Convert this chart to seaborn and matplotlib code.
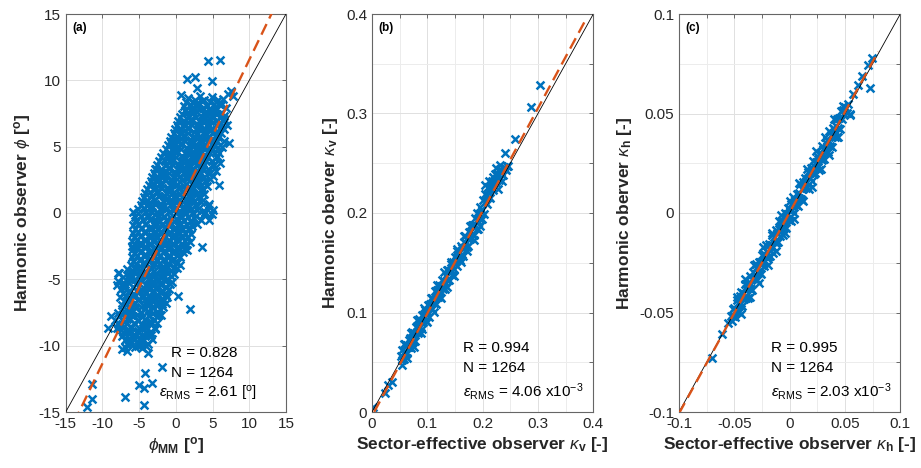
import numpy as np
import pandas as pd
import matplotlib
matplotlib.use("Agg")
import matplotlib.pyplot as plt
import seaborn as sns
from matplotlib.ticker import MultipleLocator, FuncFormatter

# ---------------- data ----------------
# Panel (a): phi_MM (x) vs harmonic observer phi (y), dense core
phi_mm_core = [
    1.7, 2.3, 3.3, 3.9, 4.9, 5.5, 6.4,
    1.1, 2.1, 2.7, 3.7, 4.3, 5.3, 5.9, 6.8,
    0.9, 1.8, 2.4, 3.4, 4.0, 5.0, 5.6, 6.5,
    0.3, 1.3, 1.9, 2.9, 3.5, 4.5, 5.1, 6.1, 6.9,
    -0.1, 0.9, 1.5, 2.5, 3.1, 4.1, 4.7, 5.7, 6.5,
    -0.6, 0.4, 1.0, 2.0, 2.6, 3.6, 4.2, 5.2, 5.8, 6.6,
    -1.1, -0.1, 0.5, 1.5, 2.1, 3.1, 3.7, 4.7, 5.3, 6.3,
    -1.7, -0.7, -0.1, 0.9, 1.5, 2.5, 3.1, 4.1, 4.7, 5.6,
    -2.3, -1.3, -0.7, 0.3, 0.9, 1.9, 2.5, 3.5, 4.1, 5.2, 6.0,
    -2.7, -1.7, -1.1, -0.1, 0.5, 1.5, 2.1, 3.1, 3.7, 4.7, 5.5,
    -3.3, -2.3, -1.7, -0.7, -0.1, 0.9, 1.5, 2.5, 3.1, 4.1, 4.7,
    -3.7, -2.7, -2.1, -1.1, -0.5, 0.5, 1.1, 2.1, 2.7, 3.7, 4.2,
    -4.2, -3.2, -2.6, -1.6, -1.0, 0.0, 0.6, 1.6, 2.2, 3.2, 3.8,
    -4.6, -3.6, -3.0, -2.0, -1.4, -0.4, 0.2, 1.2, 1.8, 2.8, 3.4, 4.5,
    -5.1, -4.1, -3.5, -2.5, -1.9, -0.9, -0.3, 0.7, 1.3, 2.3, 2.9, 4.0, 4.9,
    -5.5, -4.5, -3.9, -2.9, -2.3, -1.3, -0.7, 0.3, 0.9, 1.9, 2.5, 3.4,
    -5.8, -4.8, -4.2, -3.2, -2.6, -1.6, -1.0, 0.0, 0.6, 1.6, 2.2,
    -5.9, -4.9, -4.3, -3.3, -2.7, -1.7, -1.1, -0.1, 0.5, 1.5, 2.1,
    -6.0, -5.0, -4.4, -3.4, -2.8, -1.8, -1.2, -0.2, 0.4, 1.4, 1.9,
    -5.9, -4.9, -4.3, -3.3, -2.7, -1.7, -1.1, -0.1, 0.5, 1.5,
    -6.0, -5.0, -4.4, -3.4, -2.8, -1.8, -1.2, -0.2, 0.6,
    -6.1, -5.1, -4.5, -3.5, -2.9, -1.9, -1.3, -0.3, 0.5,
    -7.7, -6.5, -5.9, -4.9, -4.3, -3.3, -2.7, -1.7, -1.1, -0.2,
    -7.9, -6.9, -6.3, -5.3, -4.7, -3.7, -3.1, -2.1, -1.5, -0.5,
    -7.5, -6.5, -5.9, -4.9, -4.3, -3.3, -2.7, -1.7, -1.0,
    -7.6, -6.6, -6.0, -5.0, -4.4, -3.4, -2.8, -1.8, -1.2,
    -7.3, -6.3, -5.7, -4.7, -4.1, -3.1, -2.5, -1.7,
    -7.9, -6.9, -6.3, -5.3, -4.7, -3.7, -3.1, -2.3,
    -8.3, -7.3, -6.7, -5.7, -5.1, -4.1, -3.5, -2.5,
    -7.7, -6.7, -6.1, -5.1, -4.5, -3.5, -2.9,
    -7.4, -6.4, -5.8, -4.8, -4.2, -3.3,
    -6.6, -5.5, -4.7, -4.0,
]
phi_ho_core = [
    8.7, 8.4, 8.85, 8.55, 8.75, 8.4, 8.6,
    8.1, 7.8, 8.25, 7.95, 8.15, 7.75, 8.2, 7.9,
    7.5, 7.2, 7.6, 7.3, 7.55, 7.25, 7.45, 7.3,
    6.9, 6.6, 7.0, 6.7, 6.95, 6.65, 6.85, 6.75, 6.6,
    6.3, 6.0, 6.4, 6.1, 6.35, 6.05, 6.25, 6.1, 6.3,
    5.7, 5.45, 5.8, 5.5, 5.75, 5.45, 5.65, 5.5, 5.7, 5.4,
    5.1, 4.85, 5.2, 4.9, 5.15, 4.85, 5.05, 4.9, 5.1, 4.95,
    4.5, 4.25, 4.6, 4.3, 4.55, 4.25, 4.45, 4.3, 4.5, 4.3,
    3.9, 3.65, 4.0, 3.7, 3.95, 3.65, 3.85, 3.7, 3.9, 3.6, 3.8,
    3.3, 3.05, 3.4, 3.1, 3.35, 3.05, 3.25, 3.1, 3.3, 3.0, 3.2,
    2.7, 2.45, 2.8, 2.5, 2.75, 2.45, 2.65, 2.5, 2.7, 2.4, 2.6,
    2.1, 1.85, 2.2, 1.9, 2.15, 1.85, 2.05, 1.9, 2.1, 1.8, 2.0,
    1.5, 1.25, 1.6, 1.3, 1.55, 1.25, 1.45, 1.3, 1.5, 1.2, 1.4,
    0.9, 0.65, 1.0, 0.7, 0.95, 0.65, 0.85, 0.7, 0.9, 0.6, 0.8, 0.7,
    0.3, 0.05, 0.4, 0.1, 0.35, 0.05, 0.25, 0.1, 0.3, 0.0, 0.2, 0.1, -0.05,
    -0.3, -0.55, -0.2, -0.5, -0.25, -0.55, -0.35, -0.5, -0.3, -0.6, -0.4, -0.5,
    -0.9, -1.15, -0.8, -1.1, -0.85, -1.15, -0.95, -1.1, -0.9, -1.2, -1.0,
    -1.5, -1.75, -1.4, -1.7, -1.45, -1.75, -1.55, -1.7, -1.5, -1.8, -1.6,
    -2.1, -2.35, -2.0, -2.3, -2.05, -2.35, -2.15, -2.3, -2.1, -2.4, -2.2,
    -2.7, -2.95, -2.6, -2.9, -2.65, -2.95, -2.75, -2.9, -2.7, -2.8,
    -3.3, -3.55, -3.2, -3.5, -3.25, -3.55, -3.35, -3.5, -3.3,
    -3.9, -4.15, -3.8, -4.1, -3.85, -4.15, -3.95, -4.1, -3.9,
    -4.5, -4.75, -4.4, -4.7, -4.45, -4.75, -4.55, -4.7, -4.5, -4.6,
    -5.1, -5.35, -5.0, -5.3, -5.05, -5.35, -5.15, -5.3, -5.1, -5.2,
    -5.7, -5.95, -5.6, -5.9, -5.65, -5.95, -5.75, -5.9, -5.7,
    -6.3, -6.55, -6.2, -6.5, -6.25, -6.55, -6.35, -6.5, -6.3,
    -6.9, -7.15, -6.8, -7.1, -6.85, -7.15, -6.95, -7.1,
    -7.5, -7.75, -7.4, -7.7, -7.45, -7.75, -7.55, -7.7,
    -8.1, -8.35, -8.0, -8.3, -8.05, -8.35, -8.15, -8.3,
    -8.7, -8.95, -8.6, -8.9, -8.65, -8.95, -8.75,
    -9.3, -9.55, -9.2, -9.5, -9.25, -9.5,
    -9.9, -10.1, -9.85, -10.05,
]
# Panel (a): points between the core rows
phi_mm_fill = [
    1.4, 2.0, 2.6, 3.0, 3.6, 4.2, 4.6, 5.2, 5.8, 6.2,
    1.3, 1.5, 2.2, 2.9, 3.1, 3.8, 4.6, 4.8, 5.4, 6.1,
    0.6, 1.1, 1.6, 2.2, 2.8, 3.2, 3.8, 4.3, 4.9, 5.4, 6.0, 6.6,
    0.1, 0.6, 1.1, 1.7, 2.2, 2.7, 3.3, 3.8, 4.4, 4.9, 5.4, 6.2,
    -0.3, 0.2, 0.7, 1.3, 1.7, 2.3, 2.9, 3.3, 3.9, 4.5, 4.9, 5.5, 6.1,
    -0.8, -0.4, 0.2, 0.8, 1.2, 1.8, 2.4, 2.8, 3.4, 4.0, 4.4, 5.0, 5.6, 6.0,
    -1.4, -0.9, -0.4, 0.2, 0.7, 1.2, 1.8, 2.3, 2.8, 3.4, 3.9, 4.4, 5.0, 5.9,
    -2.0, -1.5, -1.0, -0.4, 0.0, 0.6, 1.2, 1.6, 2.2, 2.8, 3.2, 3.8, 4.4, 4.9, 5.6,
    -2.5, -2.0, -1.4, -0.9, -0.4, 0.2, 0.7, 1.1, 1.7, 2.3, 2.7, 3.3, 3.9, 4.4, 5.1,
    -3.0, -2.5, -2.0, -1.4, -0.9, -0.4, 0.2, 0.6, 1.2, 1.8, 2.2, 2.8, 3.4, 3.9, 4.4, 5.1,
    -3.4, -3.0, -2.5, -1.9, -1.4, -0.8, -0.3, 0.2, 0.8, 1.4, 1.8, 2.4, 3.0, 3.4, 4.0,
    -3.9, -3.5, -2.9, -2.4, -1.9, -1.3, -0.7, -0.3, 0.3, 0.9, 1.3, 1.9, 2.5, 2.9, 3.5,
    -4.3, -3.9, -3.3, -2.8, -2.3, -1.7, -1.2, -0.7, -0.2, 0.4, 0.9, 1.4, 2.0, 2.5, 3.0, 3.7,
    -4.8, -4.4, -3.8, -3.3, -2.8, -2.2, -1.6, -1.2, -0.6, 0.0, 0.4, 1.0, 1.6, 2.0, 2.6, 3.2, 4.4,
    -5.2, -4.8, -4.2, -3.7, -3.2, -2.6, -2.0, -1.6, -1.0, -0.4, 0.0, 0.6, 1.2, 1.6, 2.2, 2.8, 3.8,
    -5.6, -5.1, -4.5, -4.0, -3.5, -2.8, -2.3, -1.8, -1.2, -0.6, -0.2, 0.5, 1.1, 1.5, 2.0, 2.9,
    -5.6, -5.2, -4.6, -4.0, -3.6, -3.0, -2.4, -2.0, -1.4, -0.8, -0.4, 0.2, 0.8, 1.2, 1.9,
    -5.7, -5.3, -4.7, -4.1, -3.7, -3.1, -2.5, -2.1, -1.5, -0.9, -0.5, 0.1, 0.8, 1.2, 1.7,
    -5.6, -5.2, -4.6, -4.0, -3.6, -3.0, -2.4, -2.0, -1.4, -0.8, -0.4, 0.2, 0.9, 1.3,
    -5.7, -5.3, -4.7, -4.1, -3.7, -3.1, -2.5, -2.1, -1.5, -0.8, -0.4, 0.2, 1.0,
    -5.8, -5.4, -4.8, -4.2, -3.8, -3.2, -2.6, -2.2, -1.6, -0.9, -0.5, 0.2,
    -6.6, -6.1, -5.5, -4.9, -4.6, -4.0, -3.4, -3.0, -2.4, -1.7, -1.3, -0.6, 0.1,
    -7.2, -6.8, -6.2, -5.6, -5.2, -4.6, -4.0, -3.6, -2.9, -2.3, -1.9, -1.2, -0.7,
    -7.4, -7.0, -6.4, -5.8, -5.4, -4.8, -4.1, -3.7, -3.1, -2.5, -2.0, -1.4, -0.8,
    -7.2, -6.8, -6.2, -5.6, -5.2, -4.6, -4.0, -3.6, -3.0, -2.4, -2.0, -1.4,
    -7.1, -6.7, -6.1, -5.5, -5.1, -4.5, -3.9, -3.5, -2.9, -2.3, -1.9, -1.4,
    -7.4, -6.9, -6.4, -5.8, -5.4, -4.8, -4.2, -3.8, -3.2, -2.6, -2.1,
    -7.8, -7.3, -6.8, -6.2, -5.8, -5.2, -4.6, -4.2, -3.6, -3.0, -2.6,
    -7.9, -7.2, -6.6, -6.2, -5.6, -5.0, -4.6, -4.0, -3.3, -2.9,
    -7.2, -6.6, -6.2, -5.6, -5.0, -4.6, -4.0, -3.4,
    -6.9, -6.2, -5.6, -5.1, -4.5, -3.8,
]
phi_ho_fill = [
    8.4, 8.15, 8.5, 8.2, 8.45, 8.1, 8.35, 8.2, 8.5, 8.15,
    7.8, 7.55, 7.9, 7.6, 7.85, 7.5, 7.75, 7.6, 7.9, 7.55,
    7.2, 6.95, 7.3, 7.0, 7.25, 6.9, 7.15, 7.0, 7.3, 6.95, 7.2, 7.05,
    6.6, 6.35, 6.7, 6.4, 6.65, 6.3, 6.55, 6.4, 6.7, 6.35, 6.6, 6.45,
    6.0, 5.75, 6.1, 5.8, 6.05, 5.7, 5.95, 5.8, 6.1, 5.75, 6.0, 5.85, 6.05,
    5.4, 5.15, 5.5, 5.2, 5.45, 5.1, 5.35, 5.2, 5.5, 5.15, 5.4, 5.25, 5.45, 5.1,
    4.8, 4.55, 4.9, 4.6, 4.85, 4.5, 4.75, 4.6, 4.9, 4.55, 4.8, 4.65, 4.85, 4.5,
    4.2, 3.95, 4.3, 4.0, 4.25, 3.9, 4.15, 4.0, 4.3, 3.95, 4.2, 4.05, 4.25, 3.9, 4.2,
    3.6, 3.35, 3.7, 3.4, 3.65, 3.3, 3.55, 3.4, 3.7, 3.35, 3.6, 3.45, 3.65, 3.3, 3.6,
    3.0, 2.75, 3.1, 2.8, 3.05, 2.7, 2.95, 2.8, 3.1, 2.75, 3.0, 2.85, 3.05, 2.7, 3.0, 2.8,
    2.4, 2.15, 2.5, 2.2, 2.45, 2.1, 2.35, 2.2, 2.5, 2.15, 2.4, 2.25, 2.45, 2.1, 2.4,
    1.8, 1.55, 1.9, 1.6, 1.85, 1.5, 1.75, 1.6, 1.9, 1.55, 1.8, 1.65, 1.85, 1.5, 1.8,
    1.2, 0.95, 1.3, 1.0, 1.25, 0.9, 1.15, 1.0, 1.3, 0.95, 1.2, 1.05, 1.25, 0.9, 1.2, 1.0,
    0.6, 0.35, 0.7, 0.4, 0.65, 0.3, 0.55, 0.4, 0.7, 0.35, 0.6, 0.45, 0.65, 0.3, 0.6, 0.4, 0.55,
    0.0, -0.25, 0.1, -0.2, 0.05, -0.3, -0.05, -0.2, 0.1, -0.25, 0.0, -0.15, 0.05, -0.3, 0.0, -0.2, -0.05,
    -0.6, -0.85, -0.5, -0.8, -0.55, -0.9, -0.65, -0.8, -0.5, -0.85, -0.6, -0.75, -0.55, -0.9, -0.6, -0.8,
    -1.2, -1.45, -1.1, -1.4, -1.15, -1.5, -1.25, -1.4, -1.1, -1.45, -1.2, -1.35, -1.15, -1.5, -1.2,
    -1.8, -2.05, -1.7, -2.0, -1.75, -2.1, -1.85, -2.0, -1.7, -2.05, -1.8, -1.95, -1.75, -2.1, -1.8,
    -2.4, -2.65, -2.3, -2.6, -2.35, -2.7, -2.45, -2.6, -2.3, -2.65, -2.4, -2.55, -2.35, -2.7,
    -3.0, -3.25, -2.9, -3.2, -2.95, -3.3, -3.05, -3.2, -2.9, -3.25, -3.0, -3.15, -2.95,
    -3.6, -3.85, -3.5, -3.8, -3.55, -3.9, -3.65, -3.8, -3.5, -3.85, -3.6, -3.75,
    -4.2, -4.45, -4.1, -4.4, -4.15, -4.5, -4.25, -4.4, -4.1, -4.45, -4.2, -4.35, -4.15,
    -4.8, -5.05, -4.7, -5.0, -4.75, -5.1, -4.85, -5.0, -4.7, -5.05, -4.8, -4.95, -4.75,
    -5.4, -5.65, -5.3, -5.6, -5.35, -5.7, -5.45, -5.6, -5.3, -5.65, -5.4, -5.55, -5.35,
    -6.0, -6.25, -5.9, -6.2, -5.95, -6.3, -6.05, -6.2, -5.9, -6.25, -6.0, -6.15,
    -6.6, -6.85, -6.5, -6.8, -6.55, -6.9, -6.65, -6.8, -6.5, -6.85, -6.6, -6.75,
    -7.2, -7.45, -7.1, -7.4, -7.15, -7.5, -7.25, -7.4, -7.1, -7.45, -7.2,
    -7.8, -8.05, -7.7, -8.0, -7.75, -8.1, -7.85, -8.0, -7.7, -8.05, -7.8,
    -8.4, -8.65, -8.3, -8.6, -8.35, -8.7, -8.45, -8.6, -8.3, -8.65,
    -9.0, -9.25, -8.9, -9.2, -8.95, -9.3, -9.05, -9.2,
    -9.6, -9.85, -9.5, -9.8, -9.55, -9.9,
]
# Panel (a): scattered outlying points
phi_mm_sparse = [-12.05, -11.37, -11.37, -6.92, -4.29, -4.2, -5.0, -4.4, -3.29, -1.93,
                 -3.74, 0.34, 1.93, 3.52, 4.56, 5.1, 5.93, 7.2, 4.43, 6.02,
                 1.48, 2.61, 4.88, 2.84, 0.7, 7.15, 7.74, 7.47, -2.83, -5.88,
                 -5.42, -8.87, -9.19, -7.96, -6.92, -6.69, -7.37, -6.24, -5.15, -4.6,
                 -2.02, -1.84, -7.83, -7.96, -6.01, -0.56, -1.16, -1.48]
phi_ho_sparse = [-14.65, -13.99, -12.89, -13.84, -14.47, -12.08, -12.96, -13.2, -12.84, -11.58,
                 -10.52, -6.25, -7.25, -2.53, -0.51, 0.24, 2.13, 5.27, 11.48, 11.56,
                 10.12, 10.22, 9.97, 9.4, 8.91, 8.97, 8.8, 9.17, 3.33, 0.06,
                 -0.64, -7.73, -8.64, -8.69, -10.07, -10.37, -10.27, -9.64, -9.99, -10.19,
                 -7.68, -6.85, -4.54, -5.42, -2.48, 5.32, 4.39, 2.5]

# Panel (b): kappa_v, sector-effective (x) vs harmonic (y)
kv_se = [
    0.052, 0.054, 0.055, 0.057, 0.058, 0.060, 0.061, 0.063, 0.064, 0.066,
    0.067, 0.069, 0.070, 0.072, 0.073, 0.075, 0.076, 0.078, 0.079, 0.081,
    0.082, 0.084, 0.085, 0.087, 0.088, 0.090, 0.091, 0.093, 0.094, 0.096,
    0.097, 0.099, 0.100, 0.102, 0.103, 0.105, 0.106, 0.108, 0.109, 0.111,
    0.112, 0.114, 0.115, 0.117, 0.118, 0.120, 0.121, 0.123, 0.124, 0.126,
    0.127, 0.129, 0.130, 0.132, 0.133, 0.135, 0.136, 0.138, 0.139, 0.141,
    0.142, 0.144, 0.145, 0.147, 0.148, 0.150, 0.151, 0.153, 0.154, 0.156,
    0.157, 0.159, 0.160, 0.162, 0.163, 0.165, 0.166, 0.168, 0.169, 0.171,
    0.172, 0.174, 0.175, 0.177, 0.178, 0.180, 0.181, 0.183, 0.184, 0.186,
    0.187, 0.189, 0.190, 0.192, 0.193, 0.195, 0.196, 0.198, 0.199, 0.201,
    0.202, 0.204, 0.205, 0.207, 0.208, 0.210, 0.211, 0.213, 0.214, 0.216,
    0.217, 0.219, 0.221, 0.222, 0.224, 0.226, 0.228, 0.230, 0.232, 0.234,
    0.236, 0.238, 0.240, 0.242, 0.244, 0.246,
    0.058, 0.064, 0.070, 0.076, 0.082, 0.088, 0.094, 0.100, 0.106, 0.112,
    0.118, 0.124, 0.130, 0.136, 0.142, 0.148, 0.154, 0.160, 0.166, 0.172,
    0.178, 0.184, 0.190, 0.196, 0.205, 0.212, 0.219, 0.225, 0.231, 0.228, 0.235,
    0.0024, 0.0235, 0.0296, 0.0356, 0.0537, 0.2395, 0.2588, 0.287, 0.303,
]
kv_ho = [
    0.056, 0.052, 0.062, 0.053, 0.060, 0.068, 0.058, 0.067, 0.059, 0.072,
    0.065, 0.074, 0.064, 0.074, 0.080, 0.071, 0.079, 0.071, 0.085, 0.080,
    0.086, 0.079, 0.093, 0.085, 0.091, 0.083, 0.097, 0.090, 0.095, 0.103,
    0.091, 0.101, 0.097, 0.108, 0.095, 0.109, 0.105, 0.115, 0.104, 0.114,
    0.110, 0.122, 0.109, 0.118, 0.123, 0.116, 0.128, 0.116, 0.127, 0.125,
    0.133, 0.124, 0.132, 0.124, 0.137, 0.143, 0.133, 0.143, 0.133, 0.142,
    0.149, 0.142, 0.138, 0.151, 0.144, 0.156, 0.152, 0.147, 0.162, 0.155,
    0.161, 0.153, 0.167, 0.159, 0.165, 0.157, 0.171, 0.166, 0.177, 0.166,
    0.175, 0.167, 0.181, 0.177, 0.174, 0.188, 0.179, 0.188, 0.178, 0.188,
    0.195, 0.184, 0.193, 0.184, 0.199, 0.194, 0.206, 0.194, 0.203, 0.213,
    0.199, 0.211, 0.219, 0.209, 0.218, 0.226, 0.216, 0.225, 0.215, 0.225,
    0.232, 0.223, 0.232, 0.239, 0.230, 0.240, 0.237, 0.233, 0.244, 0.241,
    0.238, 0.246, 0.244, 0.243, 0.247, 0.247,
    0.068, 0.054, 0.079, 0.065, 0.092, 0.079, 0.105, 0.090, 0.115, 0.101,
    0.128, 0.115, 0.141, 0.126, 0.151, 0.137, 0.164, 0.151, 0.177, 0.162,
    0.187, 0.173, 0.200, 0.187, 0.228, 0.232, 0.236, 0.245, 0.248, 0.224, 0.232,
    0.0047, 0.0188, 0.027, 0.0305, 0.0472, 0.260, 0.274, 0.307, 0.329,
]

# Panel (c): kappa_h, sector-effective (x) vs harmonic (y)
kh_se = [
    -0.0530, -0.0523, -0.0514, -0.0508, -0.0499, -0.0492, -0.0486, -0.0478, -0.0471, -0.0463, -0.0457, -0.0449,
    -0.0442, -0.0436, -0.0428, -0.0421, -0.0413, -0.0407, -0.0399, -0.0392, -0.0386, -0.0378, -0.0371, -0.0365,
    -0.0357, -0.0350, -0.0343, -0.0336, -0.0328, -0.0321, -0.0314, -0.0307, -0.0299, -0.0292, -0.0285, -0.0278,
    -0.0271, -0.0264, -0.0257, -0.0249, -0.0242, -0.0235, -0.0228, -0.0220, -0.0213, -0.0206, -0.0199, -0.0192,
    -0.0185, -0.0178, -0.0171, -0.0163, -0.0156, -0.0149, -0.0142, -0.0134, -0.0127, -0.0120, -0.0113, -0.0106,
    -0.0099, -0.0092, -0.0085, -0.0077, -0.0070, -0.0063, -0.0056, -0.0048, -0.0041, -0.0034, -0.0027, -0.0020,
    -0.0013, -0.0006, 0.0001, 0.0009, 0.0016, 0.0023, 0.0030, 0.0038, 0.0045, 0.0052, 0.0059, 0.0066,
    0.0073, 0.0080, 0.0087, 0.0095, 0.0102, 0.0109, 0.0116, 0.0124, 0.0131, 0.0138, 0.0145, 0.0152,
    0.0159, 0.0166, 0.0173, 0.0181, 0.0188, 0.0195, 0.0202, 0.0210, 0.0217, 0.0224, 0.0231, 0.0238,
    0.0245, 0.0252, 0.0259, 0.0267, 0.0274, 0.0281, 0.0288, 0.0296, 0.0303, 0.0310, 0.0317, 0.0324,
    0.0331, 0.0338, 0.0345, 0.0353, 0.0360, 0.0367, 0.0374, 0.0382, 0.0389, 0.0396, 0.0403, 0.0410,
    0.0417, 0.0424, 0.0431, 0.0439, 0.0446, 0.0453, 0.0461, 0.0470, 0.0480, 0.0490, 0.0502, 0.0515, 0.0528, 0.0545,
    -0.048, -0.044, -0.040, -0.036, -0.032, -0.028, -0.024, -0.020, -0.016, -0.012, -0.008, -0.004, 0.000,
    0.004, 0.008, 0.012, 0.016, 0.020, 0.024, 0.028, 0.032, 0.036, 0.040, 0.044, 0.048,
    -0.0705, -0.0614, -0.0554, 0.0575, 0.0620, 0.0650, 0.0711, 0.0741, 0.0726, 0.0545,
]
kh_ho = [
    -0.0520, -0.0543, -0.0484, -0.0518, -0.0479, -0.0522, -0.0486, -0.0438, -0.0491, -0.0453, -0.0497, -0.0419,
    -0.0452, -0.0396, -0.0468, -0.0401, -0.0433, -0.0357, -0.0429, -0.0382, -0.0356, -0.0428, -0.0351, -0.0375,
    -0.0317, -0.0380, -0.0333, -0.0386, -0.0298, -0.0321, -0.0334, -0.0257, -0.0339, -0.0272, -0.0295, -0.0248,
    -0.0301, -0.0244, -0.0307, -0.0209, -0.0252, -0.0205, -0.0268, -0.0210, -0.0163, -0.0226, -0.0199, -0.0222,
    -0.0155, -0.0218, -0.0161, -0.0113, -0.0176, -0.0199, -0.0122, -0.0144, -0.0087, -0.0150, -0.0103, -0.0146,
    -0.0079, -0.0042, -0.0115, -0.0077, -0.0040, -0.0113, -0.0046, -0.0068, -0.0001, -0.0074, -0.0007, -0.0030,
    0.0027, -0.0036, 0.0011, -0.0041, 0.0046, 0.0013, 0.0080, -0.0002, 0.0065, 0.0052, 0.0039, 0.0096,
    0.0033, 0.0100, 0.0077, 0.0145, 0.0072, 0.0119, 0.0066, 0.0154, 0.0131, 0.0178, 0.0125, 0.0162,
    0.0129, 0.0206, 0.0123, 0.0201, 0.0178, 0.0225, 0.0162, 0.0260, 0.0197, 0.0234, 0.0201, 0.0258,
    0.0285, 0.0232, 0.0269, 0.0217, 0.0304, 0.0271, 0.0338, 0.0266, 0.0323, 0.0270, 0.0317, 0.0354,
    0.0311, 0.0368, 0.0305, 0.0363, 0.0410, 0.0337, 0.0394, 0.0332, 0.0429, 0.0386, 0.0423, 0.0380,
    0.0437, 0.0384, 0.0471, 0.0429, 0.0476, 0.0423, 0.0511, 0.0470, 0.0520, 0.0500, 0.0532, 0.0505, 0.0548, 0.0495,
    -0.042, -0.051, -0.033, -0.042, -0.026, -0.035, -0.017, -0.026, -0.010, -0.019, -0.001, -0.010, 0.006,
    -0.003, 0.015, 0.006, 0.022, 0.013, 0.031, 0.022, 0.038, 0.029, 0.047, 0.038, 0.054,
    -0.0730, -0.0610, -0.0555, 0.0600, 0.0643, 0.0686, 0.0744, 0.0777, 0.0627, 0.0492,
]

# Fitted (dashed) lines: slope, intercept, x-extent
fit_a = (1.145, 0.10, (-16.0, 16.0))
fit_b = (1.031, -0.004, (0.004, 0.388))
fit_c = (1.01, 0.0003, (-0.1, 0.08))

panel_tags = ["(a)", "(b)", "(c)"]
stats_R = ["R = 0.828", "R = 0.994", "R = 0.995"]
stats_N = ["N = 1264", "N = 1264", "N = 1264"]
stats_eps = [r"$\epsilon_{\mathrm{RMS}}$ = 2.61 [$^{\mathrm{o}}$]",
             r"$\epsilon_{\mathrm{RMS}}$ = 4.06 x10$^{-3}$",
             r"$\epsilon_{\mathrm{RMS}}$ = 2.03 x10$^{-3}$"]
xlabels = [r"$\phi_{\mathbf{MM}}$ [$^{\mathbf{o}}$]",
           r"Sector-effective observer $\kappa_{\mathbf{v}}$ [-]",
           r"Sector-effective observer $\kappa_{\mathbf{h}}$ [-]"]
ylabels = [r"Harmonic observer $\phi$ [$^{\mathbf{o}}$]",
           r"Harmonic oberver $\kappa_{\mathbf{v}}$ [-]",
           r"Harmonic oberver $\kappa_{\mathbf{h}}$ [-]"]

# ---------------- styling ----------------
sns.set_style("white")
plt.rcParams.update({
    "font.family": ["Liberation Sans", "DejaVu Sans"],
    "mathtext.fontset": "custom",
    "mathtext.rm": "Liberation Sans",
    "mathtext.it": "Liberation Sans:italic",
    "mathtext.bf": "Liberation Sans:bold",
    "mathtext.sf": "Liberation Sans",
    "axes.unicode_minus": False,
})

BLUE = "#0072BD"
ORANGE = "#D95319"
TXT = "#262626"

df_a = pd.DataFrame({"x": phi_mm_core + phi_mm_fill + phi_mm_sparse,
                     "y": phi_ho_core + phi_ho_fill + phi_ho_sparse})
df_b = pd.DataFrame({"x": kv_se, "y": kv_ho})
df_c = pd.DataFrame({"x": kh_se, "y": kh_ho})

panels = [
    dict(df=df_a, lim=(-15, 15), major=5, minor=None, fit=fit_a, sx=0.478, ex=0.425,
         yR=0.139, yN=0.089, yE=0.035),
    dict(df=df_b, lim=(0, 0.4), major=0.1, minor=0.05, fit=fit_b, sx=0.412, ex=0.412,
         yR=0.1515, yN=0.101, yE=0.038),
    dict(df=df_c, lim=(-0.1, 0.1), major=0.05, minor=0.025, fit=fit_c, sx=0.415, ex=0.415,
         yR=0.1515, yN=0.101, yE=0.038),
]

fig = plt.figure(figsize=(9.21, 4.68), dpi=100)
edges = [(65.7, 286.0), (372.0, 593.3), (679.0, 900.3)]
W, H = 921.0, 468.0
bottom_px, top_px = 412.0, 14.0

for i, (p, (l, r)) in enumerate(zip(panels, edges)):
    ax = fig.add_axes([l / W, (H - bottom_px) / H, (r - l) / W, (bottom_px - top_px) / H])
    sns.scatterplot(data=p["df"], x="x", y="y", ax=ax, marker="x", color=BLUE,
                    s=32, linewidth=1.8, legend=False, zorder=2)
    lo, hi = p["lim"]
    ax.plot([lo, hi], [lo, hi], color="black", lw=0.6, zorder=3)
    slope, icpt, (x0, x1) = p["fit"]
    xf = np.array([x0, x1])
    ax.plot(xf, slope * xf + icpt, color=ORANGE, lw=1.7, ls=(0, (5, 2.6)), zorder=4)
    ax.set_xlim(lo, hi)
    ax.set_ylim(lo, hi)
    ax.xaxis.set_major_locator(MultipleLocator(p["major"]))
    ax.yaxis.set_major_locator(MultipleLocator(p["major"]))
    if p["minor"]:
        ax.xaxis.set_minor_locator(MultipleLocator(p["minor"]))
        ax.yaxis.set_minor_locator(MultipleLocator(p["minor"]))
        ax.grid(True, which="minor", color="#ececec", lw=0.7)
    fmt = FuncFormatter(lambda v, pos: ("%g" % round(v, 6)))
    ax.xaxis.set_major_formatter(fmt)
    ax.yaxis.set_major_formatter(fmt)
    ax.grid(True, which="major", color="#e0e0e0", lw=0.7)
    ax.set_axisbelow(True)
    ax.tick_params(which="both", direction="in", top=True, right=True, length=3,
                   width=0.6, color="#555555", labelcolor=TXT, labelsize=11)
    for s in ax.spines.values():
        s.set_color("#666666")
        s.set_linewidth(0.8)
    ax.set_xlabel(xlabels[i], fontsize=12.5, fontweight="bold", color=TXT, labelpad=3)
    ax.set_ylabel(ylabels[i], fontsize=12.5, fontweight="bold", color=TXT, labelpad=4)
    ax.text(0.03, 0.965, panel_tags[i], transform=ax.transAxes, fontsize=8.5,
            fontweight="bold", va="center", ha="left", color="black")
    ax.text(p["sx"], p["yR"], stats_R[i], transform=ax.transAxes, fontsize=11,
            va="baseline", ha="left", color="black")
    ax.text(p["sx"], p["yN"], stats_N[i], transform=ax.transAxes, fontsize=11,
            va="baseline", ha="left", color="black")
    ax.text(p["ex"], p["yE"], stats_eps[i], transform=ax.transAxes, fontsize=11,
            va="baseline", ha="left", color="black")

fig.savefig("out.png", dpi=100)
